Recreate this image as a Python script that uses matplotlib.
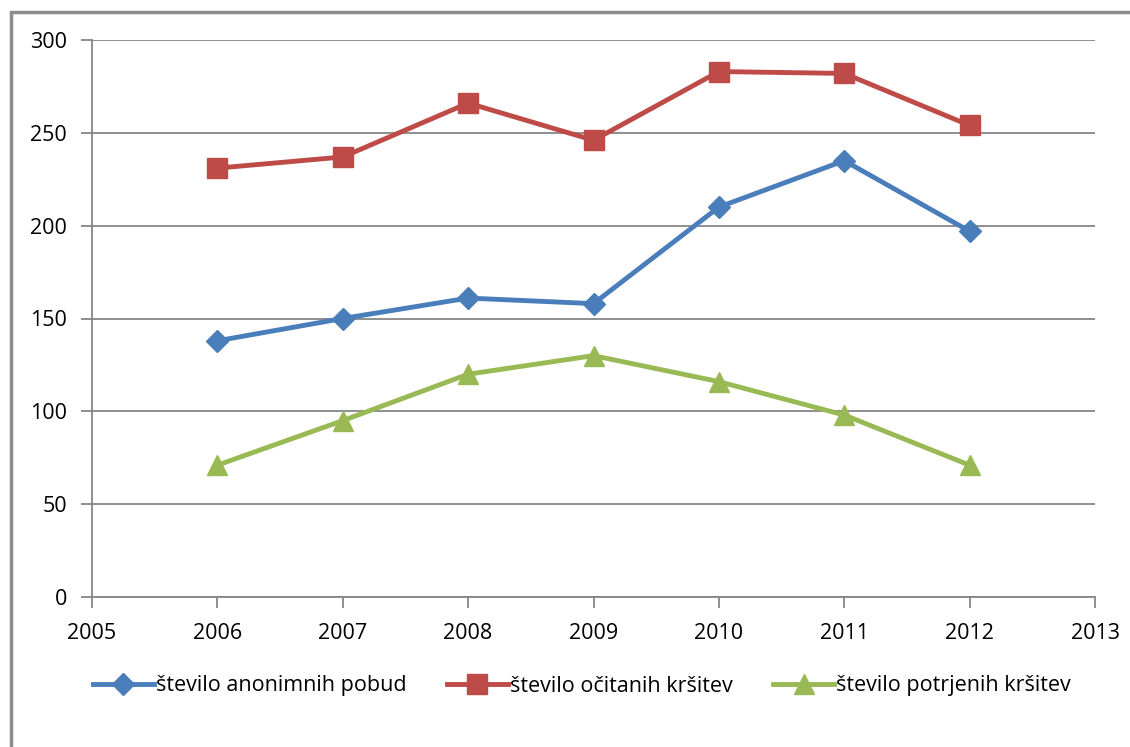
import matplotlib.pyplot as plt
from matplotlib.patches import Rectangle
from matplotlib.lines import Line2D

years = [2006, 2007, 2008, 2009, 2010, 2011, 2012]
anonimne = [138, 150, 161, 158, 210, 235, 197]
ocitane = [231, 237, 266, 246, 283, 282, 254]
potrjene = [71, 95, 120, 130, 116, 98, 71]
labels = ['število anonimnih pobud', 'število očitanih kršitev', 'število potrjenih kršitev']

plt.rcParams['font.family'] = ['Open Sans', 'DejaVu Sans']

fig = plt.figure(figsize=(11.3, 7.47), dpi=100)
ax = fig.add_axes([92 / 1130, 1 - 597 / 747, (1095 - 92) / 1130, (597 - 40) / 747])

# outer chart border
fig.patches.append(Rectangle((11 / 1130, -0.05), 1.2, 1 - 12 / 747 + 0.05,
                             transform=fig.transFigure, fill=False,
                             edgecolor='#8c8c8c', linewidth=2.5))

ax.plot(years, anonimne, color='#4a7ebb', lw=3.5, marker='D', ms=11, label=labels[0])
ax.plot(years, ocitane, color='#be4b48', lw=3.5, marker='s', ms=15, label=labels[1])
ax.plot(years, potrjene, color='#98b954', lw=3.5, marker='^', ms=15, label=labels[2])

ax.set_xlim(2005, 2013)
ax.set_ylim(0, 300)
ax.set_xticks(range(2005, 2014))
ax.set_yticks(range(0, 301, 50))
ax.grid(axis='y', color='#868686', lw=1.3)
ax.set_axisbelow(True)
for s in ['top', 'right']:
    ax.spines[s].set_visible(False)
for s in ['left', 'bottom']:
    ax.spines[s].set_color('#868686')
    ax.spines[s].set_linewidth(1.3)
ax.tick_params(axis='both', color='#868686', width=1.3, length=8, labelsize=15.5, colors='black')
ax.tick_params(axis='x', pad=11)
ax.tick_params(axis='y', pad=10)
for t in ax.get_xticklines() + ax.get_yticklines():
    t.set_color('#868686')

handles = [Line2D([0], [0], color='#4a7ebb', lw=3.5, marker='D', ms=11),
           Line2D([0], [0], color='#be4b48', lw=3.5, marker='s', ms=15),
           Line2D([0], [0], color='#98b954', lw=3.5, marker='^', ms=15)]
fig.legend(handles, labels, loc='center', bbox_to_anchor=(0.515, 1 - 686 / 747), ncol=3,
           frameon=False, fontsize=15.5, handlelength=2.8, handletextpad=0.1, columnspacing=1.9)

fig.savefig('out.png', dpi=100)
